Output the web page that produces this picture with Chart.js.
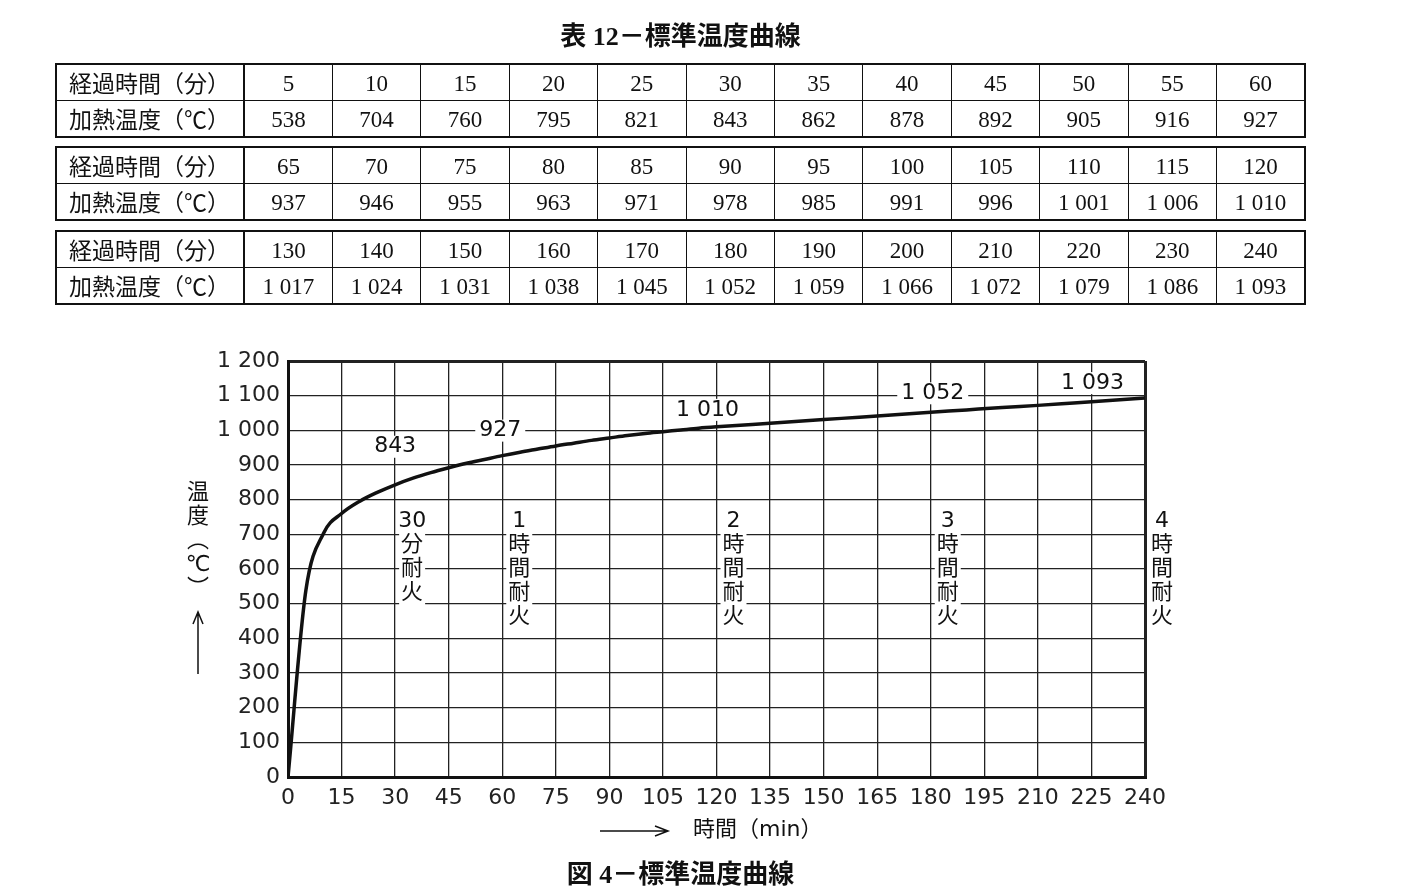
<!DOCTYPE html>
<html lang="ja">
<head>
<meta charset="utf-8">
<title>標準温度曲線</title>
<script src="https://cdn.jsdelivr.net/npm/chart.js@4.4.1/dist/chart.umd.min.js"></script>
<style>
    html, body { margin: 0; padding: 0; background: #fff; }
    body {
        width: 1414px; height: 896px; position: relative; overflow: hidden;
        font-family: "Liberation Serif", "Noto Sans CJK JP", serif; color: #111;
    }
    #curve { position: absolute; left: 0; top: 0; }
    .title, .caption {
        position: absolute; left: 55px; width: 1251px; text-align: center;
        font-size: 26px; font-weight: bold; line-height: 30px;
    }
    .title { top: 22px; }
    .caption { top: 860px; }
    table.tbl {
        position: absolute; left: 55px; width: 1251px;
        border-collapse: collapse; table-layout: fixed;
        border: 2.5px solid #111;
    }
    table.tbl td {
        border: 1.5px solid #111; height: 32px; padding: 3px 0 0 0;
        text-align: center; font-size: 23px; line-height: 32px;
    }
    table.tbl td.head {
        width: 174px; text-align: left; padding: 0 0 0 12px; height: 35px;
        font-family: "Noto Sans CJK JP", sans-serif; font-size: 23px;
        line-height: 35px;
        border-right: 2.5px solid #111;
    }
</style>
</head>
<body>
<canvas id="curve" width="1414" height="896"></canvas>
<div class="title">表 12－標準温度曲線</div>
<div id="tables"></div>
<div class="caption">図 4－標準温度曲線</div>
<script>
/* 表 12 の値 */
const minutes1 = [5, 10, 15, 20, 25, 30, 35, 40, 45, 50, 55, 60];
const temps1 = [538, 704, 760, 795, 821, 843, 862, 878, 892, 905, 916, 927];
const minutes2 = [65, 70, 75, 80, 85, 90, 95, 100, 105, 110, 115, 120];
const temps2 = [937, 946, 955, 963, 971, 978, 985, 991, 996, 1001, 1006, 1010];
const minutes3 = [130, 140, 150, 160, 170, 180, 190, 200, 210, 220, 230, 240];
const temps3 = [1017, 1024, 1031, 1038, 1045, 1052, 1059, 1066, 1072, 1079, 1086, 1093];
const startPoint = [0, 0];

/* 目盛 */
const xTickValues = [0, 15, 30, 45, 60, 75, 90, 105, 120, 135, 150, 165, 180, 195, 210, 225, 240];
const yTickValues = [0, 100, 200, 300, 400, 500, 600, 700, 800, 900, 1000, 1100, 1200];

/* 曲線上の注記 */
const noteMinutes = [30, 60, 120, 180, 225];
const noteTemps = [843, 927, 1010, 1052, 1093];
const ratingMinutes = [30, 60, 120, 180, 240];
const ratingTexts = [['30', '分', '耐', '火'], ['1', '時', '間', '耐', '火'], ['2', '時', '間', '耐', '火'],
    ['3', '時', '間', '耐', '火'], ['4', '時', '間', '耐', '火']];

function fmt(v) {
    if (v >= 1000) {
        return Math.floor(v / 1000) + ' ' + String(v % 1000).padStart(3, '0');
    }
    return String(v);
}

/* 表を作る */
var tablesHtml = '';
var blockTops = [63, 146, 230];
[[minutes1, temps1], [minutes2, temps2], [minutes3, temps3]].forEach(function(b, i) {
    tablesHtml += `
        <table class="tbl" style="top:${blockTops[i]}px">
            <tr><td class="head">経過時間（分）</td>${b[0].map(m => `<td>${m}</td>`).join('')}</tr>
            <tr><td class="head">加熱温度（℃）</td>${b[1].map(t => `<td>${fmt(t)}</td>`).join('')}</tr>
        </table>
    `;
});
document.getElementById('tables').innerHTML = tablesHtml;

const allMinutes = [startPoint[0]].concat(minutes1, minutes2, minutes3);
const allTemps = [startPoint[1]].concat(temps1, temps2, temps3);
const points = allMinutes.map((m, i) => ({x: m, y: allTemps[i]}));

const chartFont = '"DejaVu Sans", "Noto Sans CJK JP", sans-serif';

const notesPlugin = {
    id: 'notes',
    afterDraw(chart) {
        const ctx = chart.ctx;
        const xs = chart.scales.x, ys = chart.scales.y;
        const area = chart.chartArea;
        ctx.save();
        ctx.font = '22px ' + chartFont;
        ctx.fillStyle = '#111';
        ctx.textAlign = 'center';
        ctx.textBaseline = 'middle';

        // 温度の注記（白抜き）
        const lift = [38, 25, 17, 19, 15];
        const shift = [0, -2, -9, 2, 1];
        noteMinutes.forEach(function(m, i) {
            var px = xs.getPixelForValue(m) + shift[i];
            var py = ys.getPixelForValue(noteTemps[i]) - lift[i];
            var txt = fmt(noteTemps[i]);
            var w = ctx.measureText(txt).width + 8;
            ctx.fillStyle = '#fff';
            ctx.fillRect(px - w / 2, py - 11, w, 22);
            ctx.fillStyle = '#111';
            ctx.fillText(txt, px, py);
        });

        // 耐火時間の注記（縦書き）
        ratingMinutes.forEach(function(m, i) {
            var px = xs.getPixelForValue(m) + 17;
            var py = 521;
            ratingTexts[i].forEach(function(ch) {
                var w = ctx.measureText(ch).width + 4;
                ctx.fillStyle = '#fff';
                ctx.fillRect(px - w / 2, py - 12, w, 24);
                ctx.fillStyle = '#111';
                ctx.fillText(ch, px, py);
                py += 24;
            });
        });

        // 縦軸の表題
        var tx = area.left - 90;
        ['温', '度', '︵', '℃', '︶'].forEach(function(ch, i) {
            ctx.fillText(ch, tx, 493 + i * 24);
        });
        ctx.strokeStyle = '#111';
        ctx.lineWidth = 1.5;
        ctx.beginPath();
        ctx.moveTo(tx, 674); ctx.lineTo(tx, 612);
        ctx.moveTo(tx - 5, 624); ctx.lineTo(tx, 612); ctx.lineTo(tx + 5, 624);
        ctx.stroke();

        // 横軸の表題
        var by = area.bottom + 54;
        ctx.beginPath();
        ctx.moveTo(600, by); ctx.lineTo(668, by);
        ctx.moveTo(655, by - 5); ctx.lineTo(668, by); ctx.lineTo(655, by + 5);
        ctx.stroke();
        ctx.textAlign = 'left';
        ctx.fillText('時間（min）', 693, by - 1);
        ctx.restore();
    }
};

function edgeWidth(c, max) {
    return (c.tick && (c.tick.value === 0 || c.tick.value === max)) ? 3 : 1.3;
}

const ctx = document.getElementById('curve').getContext('2d');
const chart = new Chart(ctx, {
    type: 'line',
    data: {
        datasets: [{
            label: '標準温度曲線',
            data: points,
            borderColor: '#111',
            borderWidth: 3.5,
            pointRadius: 0,
            fill: false,
            cubicInterpolationMode: 'monotone'
        }]
    },
    options: {
        responsive: false,
        animation: false,
        devicePixelRatio: 1,
        layout: {
            padding: { left: 208, right: 269, top: 361, bottom: 79 }
        },
        plugins: {
            legend: { display: false },
            tooltip: { enabled: false }
        },
        scales: {
            x: {
                type: 'linear',
                min: 0,
                max: 240,
                afterBuildTicks: s => { s.ticks = xTickValues.map(v => ({value: v})); },
                afterFit: s => { s.height = 40; },
                grid: {
                    color: '#222',
                    lineWidth: c => edgeWidth(c, 240),
                    drawTicks: false
                },
                border: { display: true, color: '#111', width: 3 },
                ticks: {
                    color: '#222',
                    font: { family: chartFont, size: 22 },
                    padding: 8,
                    maxRotation: 0,
                    autoSkip: false
                }
            },
            y: {
                min: 0,
                max: 1200,
                afterBuildTicks: s => { s.ticks = yTickValues.map(v => ({value: v})); },
                afterFit: s => { s.width = 80; },
                grid: {
                    color: '#222',
                    lineWidth: c => edgeWidth(c, 1200),
                    drawTicks: false
                },
                border: { display: true, color: '#111', width: 3 },
                ticks: {
                    color: '#222',
                    font: { family: chartFont, size: 22 },
                    padding: 8,
                    callback: v => fmt(v)
                }
            }
        }
    },
    plugins: [notesPlugin]
});
</script>
</body>
</html>
